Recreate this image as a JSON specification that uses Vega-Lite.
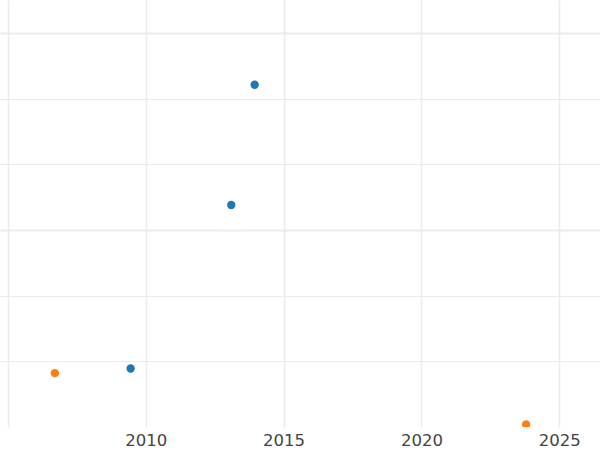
{
  "$schema": "https://vega.github.io/schema/vega-lite/v6.json",
  "width": 600,
  "height": 427,
  "padding": {"top": 0, "left": 0, "right": 0, "bottom": 23},
  "autosize": {"type": "none"},
  "background": "white",
  "config": {"view": {"stroke": null}, "font": "DejaVu Sans"},
  "data": {
    "values": [
      {"year": 2013.95, "value": 5.21, "series": "A"},
      {"year": 2013.1, "value": 3.38, "series": "A"},
      {"year": 2009.45, "value": 0.89, "series": "A"},
      {"year": 2006.7, "value": 0.82, "series": "B"},
      {"year": 2023.8, "value": 0.04, "series": "B"}
    ]
  },
  "mark": {"type": "point", "filled": true, "size": 70, "opacity": 1, "clip": true},
  "encoding": {
    "x": {
      "field": "year",
      "type": "quantitative",
      "scale": {"domain": [2004.71, 2026.48], "nice": false, "zero": false},
      "axis": {
        "title": null,
        "values": [2005, 2010, 2015, 2020, 2025],
        "format": "d",
        "labelExpr": "datum.value == 2005 ? '' : datum.label",
        "domain": false,
        "ticks": false,
        "labelFontSize": 16.5,
        "labelColor": "#444444",
        "labelPadding": 5,
        "gridColor": "#ebebeb",
        "gridWidth": 1.5
      }
    },
    "y": {
      "field": "value",
      "type": "quantitative",
      "scale": {"domain": [0, 6.5], "nice": false, "zero": false},
      "axis": {
        "title": null,
        "values": [1, 2, 3, 4, 5, 6],
        "labels": false,
        "domain": false,
        "ticks": false,
        "gridColor": "#ebebeb",
        "gridWidth": {"condition": {"test": "datum.value % 3 === 0", "value": 2}, "value": 1}
      }
    },
    "color": {
      "field": "series",
      "type": "nominal",
      "scale": {"domain": ["A", "B"], "range": ["#1f77b4", "#ff7f0e"]},
      "legend": null
    }
  }
}
